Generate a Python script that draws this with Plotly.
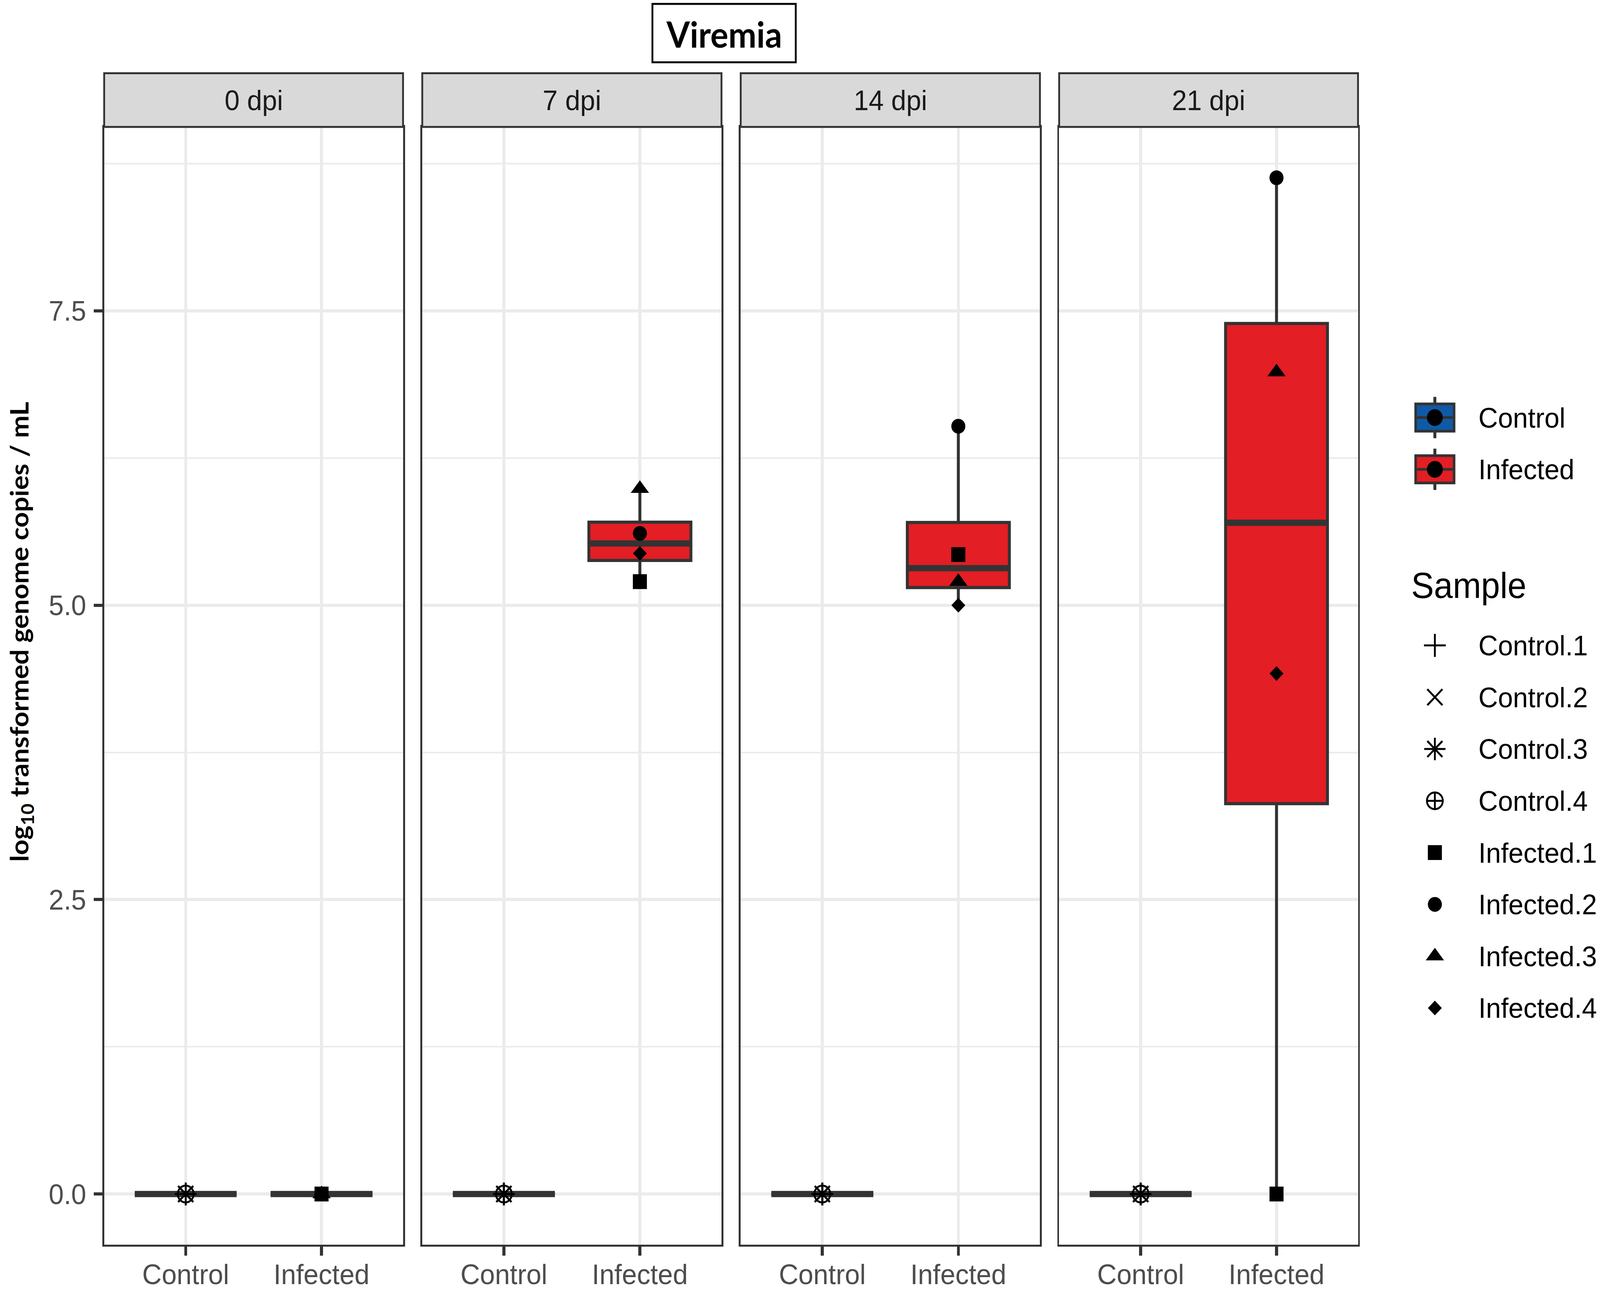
import numpy as np
import plotly.graph_objects as go

# ---------------- data ----------------
days = ["0 dpi", "7 dpi", "14 dpi", "21 dpi"]
groups = ["Control", "Infected"]
group_colors = ["#0E5AA7", "#E31E24"]
samples = ["Control.1", "Control.2", "Control.3", "Control.4",
           "Infected.1", "Infected.2", "Infected.3", "Infected.4"]
sample_group = ["Control", "Control", "Control", "Control",
                "Infected", "Infected", "Infected", "Infected"]
control_1 = [0.0, 0.0, 0.0, 0.0]
control_2 = [0.0, 0.0, 0.0, 0.0]
control_3 = [0.0, 0.0, 0.0, 0.0]
control_4 = [0.0, 0.0, 0.0, 0.0]
infected_1 = [0.0, 5.20, 5.43, 0.0]
infected_2 = [0.0, 5.61, 6.52, 8.63]
infected_3 = [0.0, 5.99, 5.20, 6.98]
infected_4 = [0.0, 5.44, 5.00, 4.42]
y_ticks = [0.0, 2.5, 5.0, 7.5]
y_tick_labels = ["0.0", "2.5", "5.0", "7.5"]

series = [control_1, control_2, control_3, control_4,
          infected_1, infected_2, infected_3, infected_4]
symbols = ["cross-thin-open", "x-thin-open", "asterisk-open", "circle-cross-open",
           "square", "circle", "triangle-up", "diamond"]
sizes = [42, 41, 48, 43, 38, 38, 43, 29]

W, H = 4331, 3303
def px(v):
    return v / W
def py(v):
    return 1 - v / H

panel_x = [(282, 1091), (1143, 1953), (2005, 2815), (2867, 3676)]
panel_top, panel_bot, strip_top = 326, 3196, 188

all_vals = np.concatenate([np.array(s) for s in series])
span = all_vals.max() - all_vals.min()
y_range = [all_vals.min() - 0.05 * span, all_vals.max() + 0.05 * span]

fig = go.Figure()
DARK = "#333333"

for i, day in enumerate(days):
    xa = "x" if i == 0 else f"x{i+1}"
    ya = "y" if i == 0 else f"y{i+1}"
    for gi, g in enumerate(groups):
        vals = np.array([series[k][i] for k in range(len(samples)) if sample_group[k] == g])
        q1, med, q3 = np.percentile(vals, [25, 50, 75])
        iqr = q3 - q1
        lo = vals[vals >= q1 - 1.5 * iqr].min()
        hi = vals[vals <= q3 + 1.5 * iqr].max()
        pos = gi + 1
        fig.add_trace(go.Box(
            x=[pos], q1=[q1], median=[med], q3=[q3], lowerfence=[lo], upperfence=[hi],
            width=0.75, fillcolor=group_colors[gi], line=dict(color=DARK, width=8),
            whiskerwidth=0, boxpoints=False, xaxis=xa, yaxis=ya,
            showlegend=False, hoverinfo="skip"))
        fig.add_trace(go.Scatter(
            x=[pos - 0.375, pos + 0.375], y=[med, med], mode="lines",
            line=dict(color=DARK, width=16), xaxis=xa, yaxis=ya,
            showlegend=False, hoverinfo="skip"))

for i, day in enumerate(days):
    xa = "x" if i == 0 else f"x{i+1}"
    ya = "y" if i == 0 else f"y{i+1}"
    for k, s in enumerate(samples):
        pos = groups.index(sample_group[k]) + 1
        is_open = symbols[k].endswith("open")
        fig.add_trace(go.Scatter(
            x=[pos], y=[series[k][i]], mode="markers",
            marker=dict(symbol=symbols[k], size=sizes[k], color="black",
                        line=dict(color="black", width=5 if is_open else 0)),
            xaxis=xa, yaxis=ya, showlegend=False, hoverinfo="skip"))

layout = dict(
    width=W, height=H, margin=dict(l=0, r=0, t=0, b=0),
    paper_bgcolor="white", plot_bgcolor="white", boxmode="overlay",
    font=dict(family="Liberation Sans, Arial", size=73, color="#1A1A1A"),
    showlegend=False,
)
for i in range(4):
    xk = "xaxis" if i == 0 else f"xaxis{i+1}"
    yk = "yaxis" if i == 0 else f"yaxis{i+1}"
    ya = "y" if i == 0 else f"y{i+1}"
    xa = "x" if i == 0 else f"x{i+1}"
    x0, x1 = panel_x[i]
    layout[xk] = dict(
        domain=[px(x0), px(x1)], range=[0.4, 2.6], anchor=ya,
        tickvals=[1, 2], ticktext=groups, ticks="outside", ticklen=23, tickwidth=8,
        tickcolor=DARK, tickfont=dict(size=73, color="#4D4D4D"),
        ticklabelstandoff=-15,
        showgrid=True, gridcolor="#EBEBEB", gridwidth=8, zeroline=False,
        showline=True, linecolor=DARK, linewidth=5, mirror=True, fixedrange=True,
    )
    ycfg = dict(
        domain=[py(panel_bot), py(panel_top)], range=y_range, anchor=xa,
        tickvals=y_ticks, ticktext=y_tick_labels,
        showgrid=True, gridcolor="#EBEBEB", gridwidth=8, zeroline=False,
        minor=dict(tickvals=[1.25, 3.75, 6.25, 8.75], showgrid=True,
                   gridcolor="#EBEBEB", gridwidth=4, ticks=""),
        showline=True, linecolor=DARK, linewidth=5, mirror=True, fixedrange=True,
    )
    if i == 0:
        ycfg.update(ticks="outside", ticklen=23, tickwidth=8, tickcolor=DARK,
                    tickfont=dict(size=73, color="#4D4D4D"), ticklabelstandoff=6)
    else:
        ycfg.update(matches="y", showticklabels=False, ticks="")
    layout[yk] = ycfg

layout["xaxis5"] = dict(domain=[px(3700), 1], range=[3700, W], visible=False,
                        anchor="y5", fixedrange=True)
layout["yaxis5"] = dict(domain=[0, 1], range=[H, 0], visible=False,
                        anchor="x5", fixedrange=True)
fig.update_layout(**layout)

shapes = []
annotations = []

for i, d in enumerate(days):
    x0, x1 = panel_x[i]
    shapes.append(dict(type="rect", xref="paper", yref="paper",
                       x0=px(x0), x1=px(x1), y0=py(panel_top), y1=py(strip_top),
                       fillcolor="#D9D9D9", line=dict(color=DARK, width=5), layer="above"))
    annotations.append(dict(text=d, xref="paper", yref="paper",
                            x=px((x0 + x1) / 2), y=py((strip_top + panel_top) / 2),
                            showarrow=False, xanchor="center", yanchor="middle",
                            font=dict(size=73, color="#1A1A1A")))

shapes.append(dict(type="rect", xref="paper", yref="paper",
                   x0=px(1766), x1=px(2154), y0=py(160), y1=py(10),
                   line=dict(color="black", width=5), fillcolor="white"))
annotations.append(dict(text="Viremia", xref="paper", yref="paper",
                        x=px(1960), y=py(87), showarrow=False,
                        xanchor="center", yanchor="middle",
                        font=dict(family="Lato", size=91, color="black", weight=700)))

annotations.append(dict(text="log<sub>10</sub> transformed genome copies / mL",
                        xref="paper", yref="paper", x=px(55), y=py(1622),
                        textangle=-90, showarrow=False, xanchor="center", yanchor="middle",
                        font=dict(family="Lato", size=69, color="black", weight=700)))

key_cx = 3884
fill_y0 = 1072
fill_step = 133
for gi, g in enumerate(groups):
    cy = fill_y0 + gi * fill_step
    shapes.append(dict(type="line", xref="x5", yref="y5", x0=key_cx, x1=key_cx,
                       y0=cy - 53, y1=cy + 53, line=dict(color=DARK, width=8), layer="below"))
    shapes.append(dict(type="rect", xref="x5", yref="y5", x0=key_cx - 52, x1=key_cx + 52,
                       y0=cy - 35, y1=cy + 35, fillcolor=group_colors[gi],
                       line=dict(color=DARK, width=7), layer="below"))
    shapes.append(dict(type="line", xref="x5", yref="y5", x0=key_cx - 50, x1=key_cx + 50,
                       y0=cy, y1=cy, line=dict(color=DARK, width=7), layer="below"))
    annotations.append(dict(text=g, xref="x5", yref="y5", x=4000, y=cy,
                            showarrow=False, xanchor="left", yanchor="middle",
                            font=dict(size=73, color="black")))
fig.add_trace(go.Scatter(
    x=[key_cx] * len(groups), y=[fill_y0 + gi * fill_step for gi in range(len(groups))],
    mode="markers", marker=dict(symbol="circle", size=43, color="black"),
    xaxis="x5", yaxis="y5", showlegend=False, hoverinfo="skip"))

annotations.append(dict(text="Sample", xref="x5", yref="y5", x=3818, y=1503,
                        showarrow=False, xanchor="left", yanchor="middle",
                        font=dict(size=92, color="black")))
samp_y0 = 1657
samp_step = 133
for k, s in enumerate(samples):
    cy = samp_y0 + k * samp_step
    is_open = symbols[k].endswith("open")
    fig.add_trace(go.Scatter(
        x=[key_cx], y=[cy], mode="markers",
        marker=dict(symbol=symbols[k], size=sizes[k], color="black",
                    line=dict(color="black", width=5 if is_open else 0)),
        xaxis="x5", yaxis="y5", showlegend=False, hoverinfo="skip"))
    annotations.append(dict(text=s, xref="x5", yref="y5", x=4000, y=cy,
                            showarrow=False, xanchor="left", yanchor="middle",
                            font=dict(size=73, color="black")))

fig.update_layout(shapes=shapes, annotations=annotations)

# make the fixed-size figure fit the browser viewport exactly
fit_js = """
(function(){
  var gd = document.getElementById('{plot_id}');
  var W = %d, H = %d;
  document.documentElement.style.margin = '0';
  document.documentElement.style.overflow = 'hidden';
  document.body.style.margin = '0';
  document.body.style.overflow = 'hidden';
  var wrap = gd.parentElement;
  wrap.style.width = '100vw';
  wrap.style.height = '100vh';
  wrap.style.overflow = 'hidden';
  var sx = window.innerWidth / W, sy = window.innerHeight / H;
  gd.style.transformOrigin = '0 0';
  gd.style.transform = 'scale(' + sx + ',' + sy + ')';
})();
""" % (W, H)
fig.write_html("out.html", post_script=fit_js, config={"displayModeBar": False})
